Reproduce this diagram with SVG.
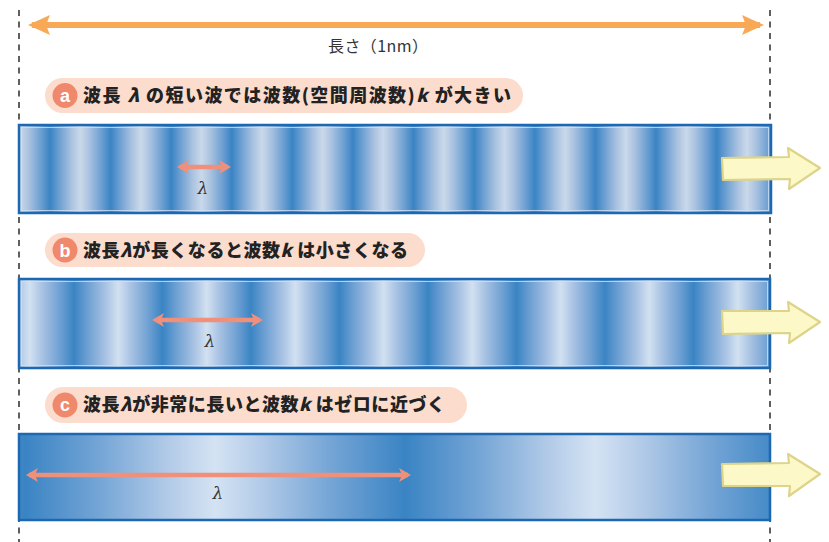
<svg xmlns="http://www.w3.org/2000/svg" width="829" height="542" viewBox="0 0 829 542">
<style>
.guide{stroke:#5f5f5f;stroke-width:2;stroke-dasharray:6 5.5;fill:none}
.band{stroke:#1c68b2;stroke-width:2.5}
.inner{fill:none;stroke:#cfe0f2;stroke-width:1;opacity:0.8}
.pill{fill:#fcdccd}
.badge{fill:#f0896b}
.badge-t{font-family:"Liberation Sans",Arial,sans-serif;font-weight:bold;font-size:18px;fill:#fff;text-anchor:middle}
.lbl{font-family:"Noto Sans CJK JP","Noto Sans",sans-serif;font-weight:900;font-size:18px;fill:#222}
.it{font-style:italic}
.lam{stroke:#f0907a;stroke-width:4.5;fill:none}
.lamt{font-family:"DejaVu Serif","Liberation Serif",serif;font-style:italic;font-size:17px;fill:#333;text-anchor:middle}
.big{fill:#fdf8c8;stroke:#ddd48a;stroke-width:2.2;stroke-linejoin:round}
.len{font-family:"Noto Sans CJK JP","Noto Sans",sans-serif;font-size:16px;fill:#333;text-anchor:middle}
</style>
<defs>
<linearGradient id="ga" gradientUnits="userSpaceOnUse" x1="50" y1="0" x2="110.6" y2="0" spreadMethod="repeat">
<stop offset="0" stop-color="#3a84c4"/>
<stop offset="0.15" stop-color="#6c9fd2"/>
<stop offset="0.35" stop-color="#a9c2e0"/>
<stop offset="0.5" stop-color="#cad9ea"/>
<stop offset="0.65" stop-color="#a9c2e0"/>
<stop offset="0.85" stop-color="#6c9fd2"/>
<stop offset="1" stop-color="#3a84c4"/>
</linearGradient>
<linearGradient id="gb" gradientUnits="userSpaceOnUse" x1="74" y1="0" x2="162.5" y2="0" spreadMethod="repeat">
<stop offset="0" stop-color="#3a84c4"/>
<stop offset="0.15" stop-color="#6c9fd2"/>
<stop offset="0.35" stop-color="#a6c1e2"/>
<stop offset="0.5" stop-color="#d2e1f1"/>
<stop offset="0.65" stop-color="#a6c1e2"/>
<stop offset="0.85" stop-color="#6c9fd2"/>
<stop offset="1" stop-color="#3a84c4"/>
</linearGradient>
<linearGradient id="gc" gradientUnits="userSpaceOnUse" x1="25" y1="0" x2="405" y2="0" spreadMethod="repeat">
<stop offset="0" stop-color="#3a84c4"/>
<stop offset="0.2" stop-color="#76a6d6"/>
<stop offset="0.38" stop-color="#b3cbe8"/>
<stop offset="0.5" stop-color="#d4e3f3"/>
<stop offset="0.62" stop-color="#b3cbe8"/>
<stop offset="0.8" stop-color="#76a6d6"/>
<stop offset="1" stop-color="#3a84c4"/>
</linearGradient>
<marker id="la" viewBox="0 0 12 14" refX="9" refY="7" markerWidth="12" markerHeight="14" markerUnits="userSpaceOnUse" orient="auto-start-reverse">
<path d="M0,0 L12,7 L0,14 L3,7 Z" fill="#f0907a"/>
</marker>
<marker id="oa" viewBox="0 0 22 20" refX="18" refY="10" markerWidth="22" markerHeight="20" markerUnits="userSpaceOnUse" orient="auto-start-reverse">
<path d="M0,0 L22,10 L0,20 L4,10 Z" fill="#f8a956"/>
</marker>
</defs>

<g id="guides">
<line class="guide" x1="19" y1="10" x2="19" y2="542"/>
<line class="guide" x1="770" y1="10" x2="770" y2="542"/>
</g>

<g id="length">
<line x1="32" y1="25" x2="760" y2="25" stroke="#f8a956" stroke-width="6" marker-start="url(#oa)" marker-end="url(#oa)"/>
<text class="len" x="378" y="52" textLength="100" lengthAdjust="spacing">長さ（1nm）</text>
</g>

<g id="label-a">
<rect class="pill" x="45" y="78" width="478" height="35" rx="17.5"/>
<circle class="badge" cx="65" cy="95.5" r="12.5"/>
<text class="badge-t" x="65" y="101.5">a</text>
<text class="lbl" x="83" y="102" textLength="428" lengthAdjust="spacing">波長<tspan class="it"> λ </tspan>の短い波では波数(空間周波数)<tspan class="it">k </tspan>が大きい</text>
</g>

<g id="band-a">
<rect class="band" x="19" y="125" width="752" height="88" fill="url(#ga)"/>
<rect class="inner" x="21.5" y="127.5" width="747" height="83"/>
</g>

<g id="label-b">
<rect class="pill" x="45" y="233" width="380" height="34" rx="17"/>
<circle class="badge" cx="65" cy="250" r="12.5"/>
<text class="badge-t" x="65" y="256.5">b</text>
<text class="lbl" x="83" y="256.5" textLength="325" lengthAdjust="spacing">波長<tspan class="it">λ</tspan>が長くなると波数<tspan class="it">k </tspan>は小さくなる</text>
</g>

<g id="band-b">
<rect class="band" x="19" y="279" width="751" height="89" fill="url(#gb)"/>
<rect class="inner" x="21.5" y="281.5" width="746" height="84"/>
</g>

<g id="label-c">
<rect class="pill" x="45" y="387" width="422" height="36" rx="18"/>
<circle class="badge" cx="65" cy="405" r="12.5"/>
<text class="badge-t" x="65" y="411">c</text>
<text class="lbl" x="83" y="411" textLength="362" lengthAdjust="spacing">波長<tspan class="it">λ</tspan>が非常に長いと波数<tspan class="it">k </tspan>はゼロに近づく</text>
</g>

<g id="band-c">
<rect class="band" x="19" y="434" width="751" height="86" fill="url(#gc)"/>
</g>

<g id="connectors">
<line class="lam" x1="180" y1="167" x2="228" y2="167" marker-start="url(#la)" marker-end="url(#la)"/>
<text class="lamt" x="203" y="194">λ</text>
<line class="lam" x1="155" y1="320" x2="260" y2="320" marker-start="url(#la)" marker-end="url(#la)"/>
<text class="lamt" x="210" y="347">λ</text>
<line class="lam" x1="29" y1="475" x2="408" y2="475" marker-start="url(#la)" marker-end="url(#la)"/>
<text class="lamt" x="218" y="499">λ</text>
</g>

<g id="flow-arrows">
<path class="big" d="M722,158 L789,157 L788,148 L820,168 L789,189 L790,179 L723,180 Z"/>
<path class="big" d="M722,311 L789,311 L788,302 L820,322 L789,343 L790,333 L723,334 Z"/>
<path class="big" d="M722,464 L789,463 L788,454 L820,474 L789,496 L790,486 L723,486 Z"/>
</g>
</svg>
